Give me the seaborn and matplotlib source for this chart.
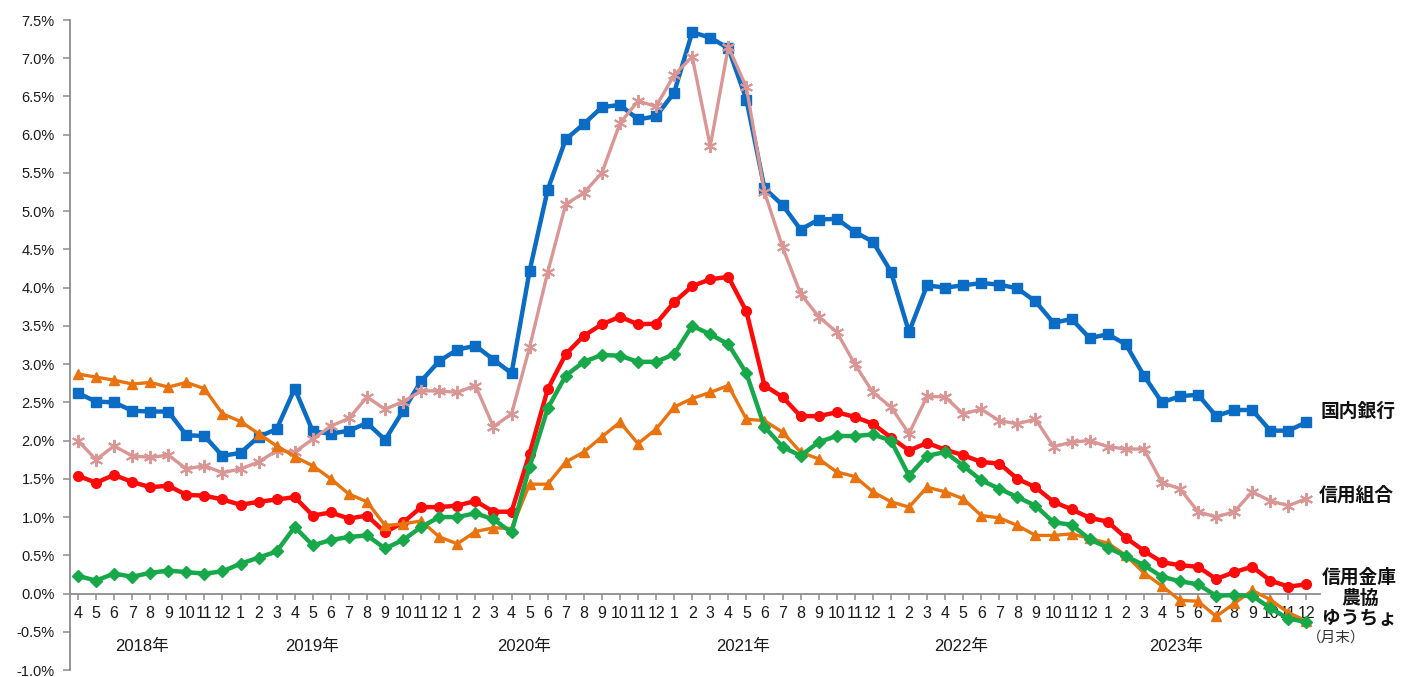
import numpy as np
import pandas as pd
import matplotlib
matplotlib.use("Agg")
import matplotlib.pyplot as plt
import seaborn as sns
from matplotlib.ticker import FuncFormatter

# Month-end observations, April 2018 through December 2023
years = [2018] * 9 + [2019] * 12 + [2020] * 12 + [2021] * 12 + [2022] * 12 + [2023] * 12
months = list(range(4, 13)) + list(range(1, 13)) * 5

# Year-on-year growth of deposits (%)
domestic_banks = [2.62, 2.51, 2.50, 2.39, 2.38, 2.38, 2.07, 2.06, 1.80,
                  1.84, 2.05, 2.15, 2.68, 2.12, 2.09, 2.13, 2.23, 2.01, 2.39, 2.78, 3.04,
                  3.19, 3.24, 3.06, 2.88, 4.22, 5.28, 5.94, 6.14, 6.36, 6.39, 6.20, 6.24,
                  6.55, 7.34, 7.27, 7.13, 6.46, 5.30, 5.08, 4.76, 4.89, 4.90, 4.73, 4.60,
                  4.21, 3.42, 4.03, 4.00, 4.03, 4.06, 4.04, 3.99, 3.82, 3.54, 3.59, 3.34,
                  3.39, 3.26, 2.85, 2.50, 2.58, 2.60, 2.32, 2.40, 2.40, 2.13, 2.13, 2.24]
credit_coops = [2.00, 1.75, 1.93, 1.80, 1.78, 1.81, 1.63, 1.67, 1.58,
                1.63, 1.72, 1.87, 1.85, 2.02, 2.19, 2.29, 2.57, 2.41, 2.51, 2.65, 2.65,
                2.63, 2.72, 2.18, 2.35, 3.22, 4.20, 5.09, 5.24, 5.50, 6.15, 6.44, 6.37,
                6.78, 7.02, 5.85, 7.15, 6.62, 5.25, 4.53, 3.92, 3.62, 3.42, 3.00, 2.63,
                2.44, 2.09, 2.58, 2.57, 2.35, 2.41, 2.26, 2.22, 2.28, 1.92, 1.98, 2.00,
                1.92, 1.89, 1.89, 1.45, 1.37, 1.07, 1.00, 1.07, 1.33, 1.21, 1.15, 1.24]
shinkin_banks = [1.54, 1.45, 1.55, 1.46, 1.39, 1.41, 1.29, 1.28, 1.23,
                 1.16, 1.20, 1.23, 1.26, 1.02, 1.06, 0.98, 1.02, 0.80, 0.93, 1.13, 1.13,
                 1.15, 1.21, 1.07, 1.07, 1.83, 2.67, 3.13, 3.37, 3.52, 3.62, 3.52, 3.53,
                 3.81, 4.02, 4.11, 4.14, 3.69, 2.72, 2.57, 2.32, 2.32, 2.37, 2.31, 2.22,
                 2.04, 1.87, 1.97, 1.88, 1.81, 1.72, 1.70, 1.50, 1.39, 1.20, 1.10, 0.99,
                 0.94, 0.73, 0.56, 0.41, 0.37, 0.35, 0.19, 0.28, 0.35, 0.17, 0.09, 0.12]
agri_coops = [0.23, 0.17, 0.26, 0.22, 0.27, 0.30, 0.28, 0.26, 0.29,
              0.39, 0.47, 0.55, 0.87, 0.63, 0.70, 0.74, 0.76, 0.59, 0.70, 0.87, 1.00,
              1.00, 1.05, 0.97, 0.80, 1.66, 2.42, 2.85, 3.03, 3.12, 3.11, 3.03, 3.03,
              3.13, 3.50, 3.39, 3.26, 2.88, 2.18, 1.92, 1.80, 1.98, 2.06, 2.06, 2.08,
              2.00, 1.54, 1.80, 1.85, 1.67, 1.48, 1.37, 1.26, 1.15, 0.93, 0.90, 0.71,
              0.60, 0.49, 0.37, 0.22, 0.16, 0.12, -0.03, -0.02, -0.03, -0.19, -0.33, -0.37]
japan_post = [2.87, 2.83, 2.79, 2.74, 2.76, 2.70, 2.76, 2.68, 2.35,
              2.25, 2.09, 1.93, 1.79, 1.67, 1.50, 1.30, 1.20, 0.89, 0.91, 0.95, 0.74,
              0.65, 0.81, 0.86, 0.85, 1.43, 1.43, 1.72, 1.85, 2.05, 2.24, 1.96, 2.15,
              2.44, 2.55, 2.63, 2.72, 2.28, 2.26, 2.11, 1.85, 1.76, 1.59, 1.53, 1.33,
              1.20, 1.13, 1.39, 1.33, 1.24, 1.02, 0.99, 0.89, 0.76, 0.76, 0.78, 0.72,
              0.66, 0.50, 0.27, 0.10, -0.09, -0.10, -0.30, -0.13, 0.04, -0.08, -0.25, -0.36]

year_labels = ["2018年", "2019年", "2020年", "2021年", "2022年", "2023年"]
y_ticks = [-1.0, -0.5, 0.0, 0.5, 1.0, 1.5, 2.0, 2.5, 3.0, 3.5, 4.0, 4.5, 5.0, 5.5, 6.0, 6.5, 7.0, 7.5]

idx = np.arange(len(months))
df = pd.DataFrame({
    "idx": idx,
    "国内銀行": domestic_banks,
    "信用金庫": shinkin_banks,
    "信用組合": credit_coops,
    "ゆうちょ": japan_post,
    "農協": agri_coops,
})

sns.set_theme(style="white")
plt.rcParams["font.family"] = ["Liberation Sans", "Noto Sans CJK JP", "DejaVu Sans"]

fig = plt.figure(figsize=(14.13, 6.77), dpi=100)
ax = fig.add_axes([70 / 1413, 7 / 677, 1250 / 1413, 650 / 677])

styles = [
    ("国内銀行", "#0a6cc4", "s", 7.0, 3.2, 1.0, 3),
    ("信用金庫", "#ff0a0a", "o", 7.0, 3.2, 1.0, 4),
    ("信用組合", "#d99694", (6, 2, 0), 9.5, 2.4, 1.4, 5),
    ("ゆうちょ", "#e8730f", "^", 6.5, 2.4, 1.0, 6),
    ("農協", "#17a84a", "D", 6.5, 3.2, 1.0, 7),
]
for name, color, marker, ms, lw, mew, z in styles:
    sns.lineplot(data=df, x="idx", y=name, ax=ax, color=color, marker=marker,
                 markersize=ms, linewidth=lw, markeredgecolor=color,
                 markerfacecolor=color, markeredgewidth=mew, zorder=z)

ax.set_xlim(-0.44, 68.75)
ax.set_ylim(-1.0, 7.5)
ax.set_xlabel("")
ax.set_ylabel("")

# Axes: left spine plus an x axis that runs along the zero line
for side in ("top", "right"):
    ax.spines[side].set_visible(False)
ax.spines["bottom"].set_position(("data", 0))
for side in ("left", "bottom"):
    ax.spines[side].set_color("#8c8c8c")
    ax.spines[side].set_linewidth(1.3)

ax.set_xticks(idx)
ax.set_xticklabels([str(m) for m in months])
ax.set_yticks(y_ticks)
ax.yaxis.set_major_formatter(FuncFormatter(lambda v, _: f"{v:.1f}%"))
ax.tick_params(axis="x", direction="out", length=4, width=1.1, color="#8c8c8c",
               pad=5, labelsize=11.5, labelcolor="#1a1a1a", bottom=True)
ax.tick_params(axis="y", direction="out", length=5, width=1.1, color="#8c8c8c",
               pad=6, labelsize=10.5, labelcolor="#1a1a1a", left=True)
ax.grid(False)

# Year captions beneath the month labels
year_pos = [3.55, 12.95, 24.7, 36.8, 48.9, 60.8]
for pos, lab in zip(year_pos, year_labels):
    ax.text(pos, -0.69, lab, ha="center", va="center", fontsize=12, color="#1a1a1a")

ax.text(69.65, -0.57, "（月末）", ha="center", va="center", fontsize=10.5, color="#333333",
        clip_on=False)

# Series names at the right end of the lines
ax.text(68.8, domestic_banks[-1] + 0.14, "国内銀行", ha="left", va="center",
        fontsize=13.5, fontweight="bold", color="#111111", clip_on=False)
ax.text(68.7, credit_coops[-1] + 0.04, "信用組合", ha="left", va="center",
        fontsize=13.5, fontweight="bold", color="#111111", clip_on=False)
ax.text(70.95, -0.06, "信用金庫\n農協\nゆうちょ", ha="center", va="center",
        fontsize=13.5, fontweight="bold", color="#111111", linespacing=1.25,
        clip_on=False)

fig.savefig("out.png", dpi=100, facecolor="white")
